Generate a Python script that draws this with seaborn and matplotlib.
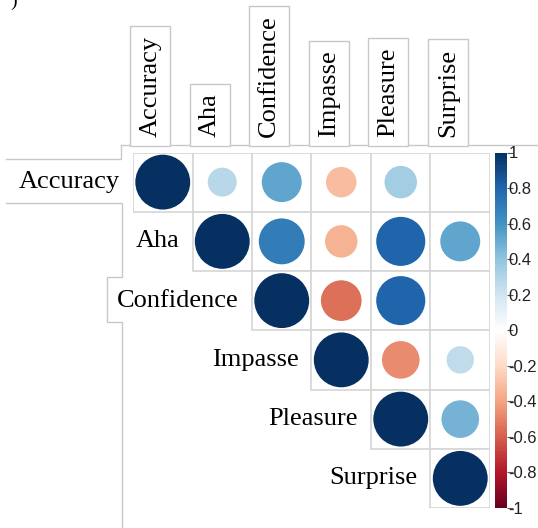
import numpy as np
import pandas as pd
import matplotlib
matplotlib.use("Agg")
import matplotlib.pyplot as plt
import seaborn as sns
from matplotlib.colors import LinearSegmentedColormap, Normalize
from matplotlib.cm import ScalarMappable
from matplotlib.lines import Line2D
from matplotlib.patches import Rectangle

# ---- data ----
variables = ["Accuracy", "Aha", "Confidence", "Impasse", "Pleasure", "Surprise"]
# upper-triangle correlations, row by row (NaN = blank / not shown)
row_accuracy = [1.00, 0.28, 0.53, -0.31, 0.35, np.nan]
row_aha = [0.70, -0.35, 0.80, 0.53]          # vs Confidence, Impasse, Pleasure, Surprise
row_confidence = [-0.55, 0.80, np.nan]       # vs Impasse, Pleasure, Surprise
row_impasse = [-0.47, 0.25]                  # vs Pleasure, Surprise
row_pleasure = [0.47]                        # vs Surprise
cbar_ticks = [1, 0.8, 0.6, 0.4, 0.2, 0, -0.2, -0.4, -0.6, -0.8, -1]
cbar_labels = ["1", "0.8", "0.6", "0.4", "0.2", "0", "-0.2", "-0.4", "-0.6", "-0.8", "-1"]

n = len(variables)
corr = np.full((n, n), np.nan)
corr[0, :] = row_accuracy
corr[1, 1:] = [1.0] + row_aha
corr[2, 2:] = [1.0] + row_confidence
corr[3, 3:] = [1.0] + row_impasse
corr[4, 4:] = [1.0] + row_pleasure
corr[5, 5] = 1.0

records = []
for i in range(n):
    for j in range(i, n):
        if not np.isnan(corr[i, j]):
            records.append({"row": i, "col": j, "r": corr[i, j]})
df = pd.DataFrame(records)
df["xc"] = df["col"] + 0.5
df["yc"] = df["row"] + 0.5
df["absr"] = df["r"].abs()

# corrplot-like RdBu ramp
cmap = LinearSegmentedColormap.from_list(
    "corrRdBu",
    ["#67001F", "#B2182B", "#D6604D", "#F4A582", "#FDDBC7", "#FFFFFF",
     "#D1E5F0", "#92C5DE", "#4393C3", "#2166AC", "#053061"])

W, H = 538, 528
fig = plt.figure(figsize=(W / 100, H / 100), dpi=100)
fig.patch.set_facecolor("white")

ax = fig.add_axes([133 / W, 1 - 508 / H, 357 / W, 355.5 / H])

# grid cells of the upper triangle
for i in range(n):
    for j in range(i, n):
        ax.add_patch(Rectangle((j, i), 1, 1, fc="white", ec="#d6d6d6", lw=1.2, zorder=1))

sns.scatterplot(data=df, x="xc", y="yc", hue="r", size="absr",
                palette=cmap, hue_norm=(-1, 1),
                sizes=(0, 1560), size_norm=(0, 1),
                linewidth=0, legend=False, ax=ax, zorder=3)
ax.set_xlim(0, n)
ax.set_ylim(n, 0)
ax.set_xlabel("")
ax.set_ylabel("")
ax.set_facecolor("none")
ax.tick_params(left=False, bottom=False, labelleft=False, labelbottom=False)
for s in ax.spines.values():
    s.set_visible(False)

serif = "Liberation Serif"
for i, name in enumerate(variables):
    ax.text(i - 0.22, i + 0.5, name, ha="right", va="center",
            fontsize=19, family=serif, color="black", clip_on=False)
    ax.text(i + 0.29, -0.27, name, rotation=90, ha="center", va="bottom",
            fontsize=19, family=serif, color="black", clip_on=False,
            bbox=dict(boxstyle="square,pad=0.35", fc="white", ec="#c8c8c8", lw=1))

# colorbar
cax = fig.add_axes([495 / W, 1 - 508 / H, 12 / W, 355.5 / H])
sm = ScalarMappable(norm=Normalize(-1, 1), cmap=cmap)
cb = fig.colorbar(sm, cax=cax)
cb.outline.set_visible(False)
cb.set_ticks(cbar_ticks)
cb.set_ticklabels(cbar_labels)
cax.tick_params(length=4, width=0.8, color="#555555", pad=-3, labelsize=12)
for t in cax.get_yticklabels():
    t.set_family("Liberation Sans")
    t.set_color("#222222")

# light outline artifacts from the original figure
def px_line(xs, ys):
    fig.add_artist(Line2D([x / W for x in xs], [1 - y / H for y in ys],
                          color="#c8c8c8", lw=1, transform=fig.transFigure, zorder=0))

px_line([121, 538], [145, 145])
px_line([6, 121, 121], [159, 159, 145])
px_line([6, 122, 122, 107, 107, 122, 122], [203, 203, 277, 277, 322, 322, 528])

fig.text(14 / W, 1 - 1 / H, ")", fontsize=14, family=serif, va="center", ha="center")

fig.savefig("out.png", dpi=100)
